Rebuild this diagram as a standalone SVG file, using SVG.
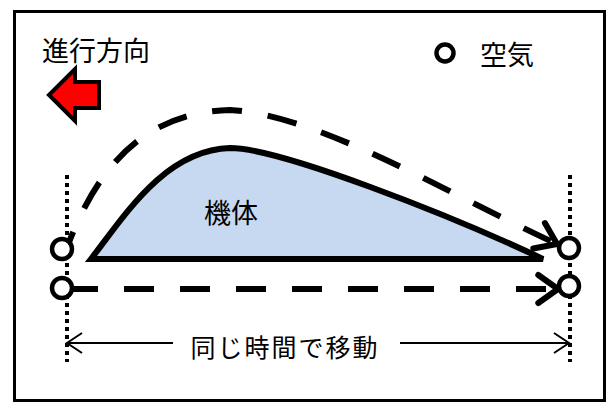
<svg xmlns="http://www.w3.org/2000/svg" width="611" height="403" viewBox="0 0 611 403">
  <style>
    .label { font-family: "Noto Sans CJK JP", "Noto Sans CJK SC", sans-serif; fill: #000; }
    .air { fill: #fff; stroke: #000; stroke-width: 4.5; }
    .flow { fill: none; stroke: #000; stroke-width: 6; stroke-dasharray: 30 26; }
    .guide { fill: none; stroke: #000; stroke-width: 4; stroke-dasharray: 4 4; }
    .dim { fill: none; stroke: #000; stroke-width: 2; }
  </style>
  <defs>
    <marker id="chevron" markerUnits="userSpaceOnUse" markerWidth="40" markerHeight="40" refX="0" refY="0" viewBox="-24 -20 28 40" orient="auto" overflow="visible">
      <path d="M-19.7,-14 L0,0 L-19.7,14" fill="none" stroke="#000" stroke-width="6" stroke-linecap="round" stroke-linejoin="round"/>
    </marker>
    <marker id="dimhead" markerUnits="userSpaceOnUse" markerWidth="20" markerHeight="24" refX="0" refY="0" viewBox="-16 -12 18 24" orient="auto-start-reverse" overflow="visible">
      <path d="M-15,-10 L0,0 L-15,10" fill="none" stroke="#000" stroke-width="2"/>
    </marker>
  </defs>

  <rect x="0" y="0" width="611" height="403" fill="#fff"/>
  <!-- frame -->
  <rect id="frame" x="14.5" y="11.5" width="590" height="389" fill="none" stroke="#000" stroke-width="3"/>

  <!-- heading and direction of travel -->
  <g id="direction">
    <text class="label" x="42" y="61" font-size="27">進行方向</text>
    <polygon points="49,95 75,69 75,82 99,82 99,108 75,108 75,121" fill="#ff0000" stroke="#000" stroke-width="4" stroke-linejoin="miter"/>
  </g>

  <!-- legend -->
  <g id="legend">
    <circle class="air" cx="445" cy="53" r="8.5"/>
    <text class="label" x="480" y="65" font-size="27">空気</text>
  </g>

  <!-- vertical guides -->
  <g id="guides">
    <line class="guide" x1="67" y1="175" x2="67" y2="362"/>
    <line class="guide" x1="570" y1="175" x2="570" y2="362"/>
  </g>

  <!-- body -->
  <g id="body">
    <path d="M91,259 C125,215 165,150 230,148 C280,148 450,215 543,259 Z" fill="#c6d9f1" stroke="#000" stroke-width="6" stroke-linejoin="miter"/>
    <text class="label" x="231" y="223" font-size="27" text-anchor="middle">機体</text>
  </g>

  <!-- connectors -->
  <g id="connectors">
    <path class="flow" d="M68,245 C100,160 150,112 230,110 C320,115 450,195 557,244" stroke-dashoffset="16" marker-end="url(#chevron)"/>
    <line class="flow" x1="68" y1="289" x2="558" y2="289" marker-end="url(#chevron)"/>
    <line class="dim" x1="67" y1="343" x2="173" y2="343" marker-start="url(#dimhead)"/>
    <line class="dim" x1="400" y1="343" x2="569" y2="343" marker-end="url(#dimhead)"/>
  </g>

  <!-- air particles -->
  <g id="air-upper-left"><circle class="air" cx="62" cy="249" r="10"/></g>
  <g id="air-lower-left"><circle class="air" cx="62" cy="288" r="10"/></g>
  <g id="air-upper-right"><circle class="air" cx="569" cy="248" r="10"/></g>
  <g id="air-lower-right"><circle class="air" cx="569" cy="286" r="10"/></g>

  <g id="dimension-label">
    <text class="label" x="285" y="357" font-size="25" letter-spacing="2" text-anchor="middle">同じ時間で移動</text>
  </g>
</svg>
